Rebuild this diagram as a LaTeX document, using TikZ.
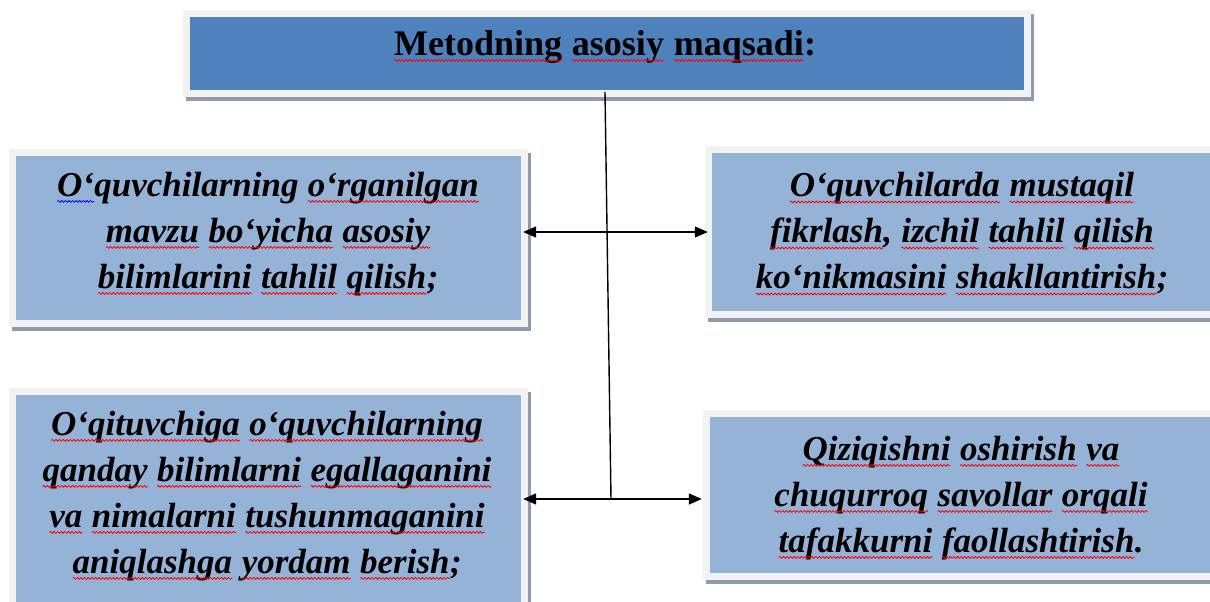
\documentclass[tikz,border=0pt]{standalone}
\usepackage{fontspec}
\setmainfont{Liberation Serif}
\usetikzlibrary{arrows.meta,shadows,decorations.pathmorphing}
\definecolor{topblue}{HTML}{4F81BD}
\definecolor{boxblue}{HTML}{95B3D7}
\definecolor{framegray}{HTML}{F2F2F2}
\definecolor{shade}{HTML}{8F9BAC}
\tikzset{
  panel/.style={fill=framegray, draw=none, inner sep=0pt,
    drop shadow={shadow xshift=3pt, shadow yshift=-4pt, fill=shade, opacity=1}},
  txt/.style={align=center, inner sep=0pt,
    font=\fontsize{35}{46}\selectfont\bfseries\itshape},
  ttl/.style={inner sep=0pt, font=\fontsize{36}{40}\selectfont\bfseries},
  link/.style={line width=1.4pt, black},
  arr/.style={link, -{Triangle[length=13pt,width=11pt]}},
  squig/.style={line width=0.8pt, decorate,
    decoration={snake, amplitude=0.9pt, segment length=3.6pt}}
}
\newcommand\wavy[2]{\tikz[baseline=(w.base),x=1pt,y=1pt]{\node[inner sep=0pt, outer sep=0pt, align=left] (w) {#2};
  \draw[squig, #1] ([yshift=-5pt]w.base west) -- ([yshift=-5pt]w.base east);}}
\newcommand\rw[1]{\wavy{red}{#1}}
\newcommand\bw[1]{\wavy{blue}{#1}}
\newcommand\innerfill[2]{\fill[#2] ([shift={(7pt,-7pt)}]#1.north west) rectangle ([shift={(-7pt,7pt)}]#1.south east);}
\begin{document}
\begin{tikzpicture}[x=1pt,y=-1pt]
\fill[white] (0,0) rectangle (1210,602);
\useasboundingbox (0,0) rectangle (1210,602);
% boxes
\node[panel, minimum width=848pt, minimum height=87pt] (top) at (607,53.5) {};
\innerfill{top}{topblue}
\node[panel, minimum width=519pt, minimum height=178pt] (lt) at (268.5,238) {};
\innerfill{lt}{boxblue}
\node[panel, minimum width=513pt, minimum height=172pt] (rt) at (961.5,232) {};
\innerfill{rt}{boxblue}
\node[panel, minimum width=519pt, minimum height=224pt] (lb) at (268.5,500) {};
\innerfill{lb}{boxblue}
\node[panel, minimum width=516pt, minimum height=170pt] (rb) at (961,495) {};
\innerfill{rb}{boxblue}
% texts
\node[ttl] (tt) at (605,47) {\rw{Metodning} \rw{asosiy} \rw{maqsadi}:};
\node[txt] (t1) at (268,234) {\bw{O‘}quvchilarning \rw{o‘rganilgan}\\ \rw{mavzu} \rw{bo‘yicha} \rw{asosiy}\\ \rw{bilimlarini} \rw{tahlil} \rw{qilish};};
\node[txt] (t2) at (962,234) {\rw{O‘quvchilarda} \rw{mustaqil}\\ \rw{fikrlash}, \rw{izchil} \rw{tahlil} \rw{qilish}\\ \rw{ko‘nikmasini} \rw{shakllantirish};};
\node[txt] (t3) at (267,496) {\rw{O‘qituvchiga} \rw{o‘quvchilarning}\\ \rw{qanday} \rw{bilimlarni} \rw{egallaganini}\\ \rw{va} \rw{nimalarni} \rw{tushunmaganini}\\ \rw{aniqlashga} \rw{yordam} \rw{berish};};
\node[txt] (t4) at (961,498) {\rw{Qiziqishni} \rw{oshirish} \rw{va}\\ \rw{chuqurroq} \rw{savollar} \rw{orqali}\\ \rw{tafakkurni} \rw{faollashtirish}.};
% connectors
\coordinate (s) at (605,92);
\coordinate (j1) at (607,232);
\coordinate (j2) at (611,499);
\draw[link] (s) -- (j2);
\draw[arr] (j1) -- ([xshift=-5pt]lt.east |- j1);
\draw[arr] (j1) -- ([xshift=3pt]rt.west |- j1);
\draw[arr] (j2) -- ([xshift=-5pt]lb.east |- j2);
\draw[arr] (j2) -- ([xshift=-1pt]rb.west |- j2);
\end{tikzpicture}
\end{document}
